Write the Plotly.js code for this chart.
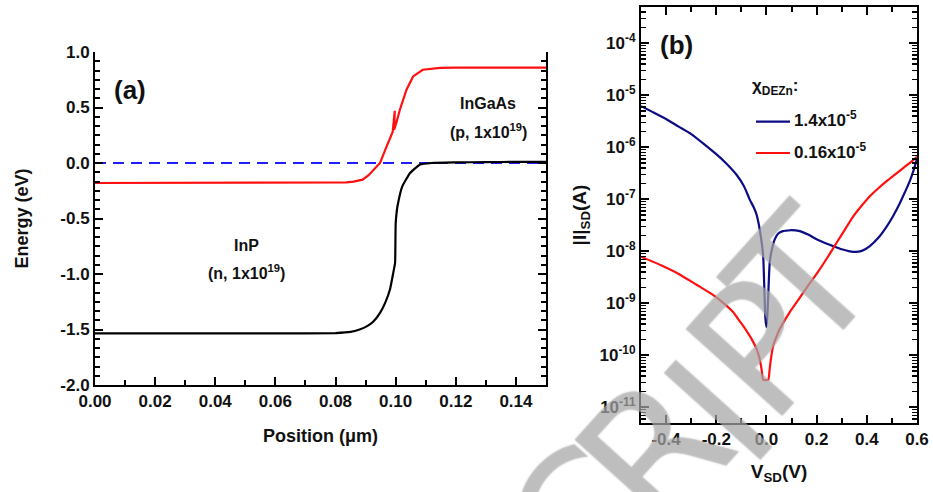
<!DOCTYPE html>
<html>
<head>
<meta charset="utf-8">
<script src="https://cdn.plot.ly/plotly-3.0.1.min.js"></script>
<style>html,body{margin:0;padding:0;background:#fff;}#chart{width:933px;height:492px;}</style>
</head>
<body>
<div id="chart"></div>
<script>
// ---------- Panel (a): band diagram ----------
const ecX = [0, 0.02, 0.04, 0.06, 0.08, 0.0837, 0.086, 0.089, 0.091, 0.0925, 0.0948, 0.097, 0.099, 0.0997, 0.0995, 0.1003, 0.1014, 0.1036, 0.1058, 0.109, 0.1147, 0.12, 0.13, 0.14, 0.15];
const ecY = [-0.18, -0.18, -0.18, -0.18, -0.178, -0.175, -0.168, -0.15, -0.11, -0.07, 0.0, 0.15, 0.28, 0.47, 0.30, 0.37, 0.48, 0.66, 0.78, 0.84, 0.857, 0.86, 0.86, 0.86, 0.86];
const evX = [0, 0.02, 0.04, 0.06, 0.08, 0.085, 0.088, 0.0905, 0.0925, 0.0948, 0.0965, 0.0981, 0.0992, 0.0998, 0.0999, 0.1000, 0.1003, 0.1006, 0.1022, 0.1048, 0.108, 0.112, 0.12, 0.13, 0.14, 0.15];
const evY = [-1.535, -1.535, -1.535, -1.535, -1.532, -1.522, -1.50, -1.47, -1.43, -1.35, -1.26, -1.14, -0.99, -0.90, -0.75, -0.55, -0.45, -0.39, -0.21, -0.09, -0.015, 0.0, 0.005, 0.008, 0.01, 0.01];
const efX = [0, 0.15];
const efY = [0, 0];

const xTicksA = [0, 0.02, 0.04, 0.06, 0.08, 0.10, 0.12, 0.14];
const xTextA = ['0.00', '0.02', '0.04', '0.06', '0.08', '0.10', '0.12', '0.14'];
const yTicksA = [-2, -1.5, -1, -0.5, 0, 0.5, 1];
const yTextA = ['-2.0', '-1.5', '-1.0', '-0.5', '0.0', '0.5', '1.0'];

// ---------- Panel (b): I-V curves ----------
const vBlue = [-0.5, -0.45, -0.4, -0.35, -0.3, -0.25, -0.2, -0.16, -0.12, -0.09, -0.067, -0.05, -0.04, -0.03, -0.02, -0.013, -0.008, -0.004, 0.0, 0.004, 0.007, 0.013, 0.02, 0.033, 0.047, 0.065, 0.08, 0.1, 0.133, 0.166, 0.2, 0.233, 0.266, 0.3, 0.346, 0.38, 0.412, 0.445, 0.479, 0.505, 0.532, 0.552, 0.572, 0.587, 0.6];
const iBlue = [6.2e-6, 4.7e-6, 3.5e-6, 2.5e-6, 1.8e-6, 1.17e-6, 7.4e-7, 4.9e-7, 3.0e-7, 1.8e-7, 1.0e-7, 6.9e-8, 5.2e-8, 3.2e-8, 1.6e-8, 8.1e-9, 1.6e-9, 5.0e-10, 3.5e-10, 6.3e-10, 1.4e-9, 6.0e-9, 1.0e-8, 1.7e-8, 2.2e-8, 2.45e-8, 2.5e-8, 2.57e-8, 2.45e-8, 2.1e-8, 1.7e-8, 1.45e-8, 1.26e-8, 1.1e-8, 9.8e-9, 1.02e-8, 1.26e-8, 1.8e-8, 3.0e-8, 4.8e-8, 8.5e-8, 1.38e-7, 2.3e-7, 3.7e-7, 6.0e-7];
const vRed = [-0.5, -0.42, -0.346, -0.28, -0.213, -0.17, -0.133, -0.106, -0.08, -0.06, -0.04, -0.028, -0.02, -0.013, 0.007, 0.012, 0.016, 0.027, 0.04, 0.053, 0.093, 0.133, 0.166, 0.2, 0.24, 0.279, 0.31, 0.346, 0.38, 0.412, 0.445, 0.479, 0.512, 0.545, 0.575, 0.6];
const iRed = [7.9e-9, 5.4e-9, 3.6e-9, 2.3e-9, 1.45e-9, 1.0e-9, 6.8e-10, 4.5e-10, 3.0e-10, 2.1e-10, 1.35e-10, 8.9e-11, 5.6e-11, 3.4e-11, 3.4e-11, 5.0e-11, 7.4e-11, 1.55e-10, 2.3e-10, 3.2e-10, 6.8e-10, 1.29e-9, 2.2e-9, 3.7e-9, 7.2e-9, 1.45e-8, 2.5e-8, 4.7e-8, 7.6e-8, 1.15e-7, 1.62e-7, 2.24e-7, 3.0e-7, 4.0e-7, 5.2e-7, 6.6e-7];

const xTicksB = [-0.4, -0.2, 0, 0.2, 0.4, 0.6];
const xTextB = ['-0.4', '-0.2', '0.0', '0.2', '0.4', '0.6'];
const xMinorB = [-0.5, -0.3, -0.1, 0.1, 0.3, 0.5];
const yTicksB = [1e-11, 1e-10, 1e-9, 1e-8, 1e-7, 1e-6, 1e-5, 1e-4];
const yTextB = ['10<sup>-11</sup>', '10<sup>-10</sup>', '10<sup>-9</sup>', '10<sup>-8</sup>', '10<sup>-7</sup>', '10<sup>-6</sup>', '10<sup>-5</sup>', '10<sup>-4</sup>'];
const legendNames = ['1.4x10<sup>-5</sup>', '0.16x10<sup>-5</sup>'];

// minor tick lists
const yMinorA = [];
for (let k = 0; k <= 36; k++) { const v = -2 + k * 0.5 / 6; if (k % 6 !== 0) yMinorA.push(+v.toFixed(4)); }
const yMinorB = [];
for (let e = -12; e <= -4; e++) for (let m = 2; m <= 9; m++) yMinorB.push(m * Math.pow(10, e));

const W = 933, H = 492;
const px = x => x / W, py = y => 1 - y / H;
const FONT = 'Liberation Sans, Arial, sans-serif';
const tf = {family: FONT, size: 17, color: '#111', weight: 'bold'};

const traces = [
  {x: efX, y: efY, xaxis: 'x', yaxis: 'y', mode: 'lines', line: {color: '#1f1fff', width: 2.2, dash: '11px,7px'}, hoverinfo: 'skip'},
  {x: ecX, y: ecY, xaxis: 'x', yaxis: 'y', mode: 'lines', line: {color: '#ff1010', width: 2.2}, hoverinfo: 'skip'},
  {x: evX, y: evY, xaxis: 'x', yaxis: 'y', mode: 'lines', line: {color: '#000', width: 2.2, shape: 'spline', smoothing: 0.4}, hoverinfo: 'skip'},
  {x: vBlue, y: iBlue, xaxis: 'x2', yaxis: 'y2', mode: 'lines', name: legendNames[0], line: {color: '#0c0c84', width: 2.2, shape: 'spline', smoothing: 0.6}},
  {x: vRed, y: iRed, xaxis: 'x2', yaxis: 'y2', mode: 'lines', name: legendNames[1], line: {color: '#ff1010', width: 2.2, shape: 'spline', smoothing: 0.5}}
];

const axBase = {showline: true, linecolor: '#000', linewidth: 2, ticks: 'inside', tickcolor: '#000', tickwidth: 2, ticklen: 8, showgrid: false, zeroline: false, tickfont: tf, fixedrange: true};

const layout = {
  width: W, height: H, margin: {l: 0, r: 0, t: 0, b: 0},
  paper_bgcolor: '#fff', plot_bgcolor: '#fff', showlegend: false,
  font: {family: FONT},
  xaxis: Object.assign({}, axBase, {domain: [px(95), px(546)], anchor: 'y', range: [0, 0.15], tickmode: 'array', tickvals: xTicksA, ticktext: xTextA,
    minor: {tickmode: 'array', tickvals: [0.01, 0.03, 0.05, 0.07, 0.09, 0.11, 0.13], ticks: 'inside', ticklen: 5, tickwidth: 2, tickcolor: '#000'},
    title: {text: 'Position (\u03bcm)', font: {family: FONT, size: 18, weight: 'bold', color: '#111'}, standoff: 19}}),
  xaxis3: Object.assign({}, axBase, {overlaying: 'x', side: 'top', anchor: 'y', range: [0, 0.15], tickmode: 'linear', tick0: 0, dtick: 0.015, showticklabels: false}),
  yaxis: Object.assign({}, axBase, {domain: [py(385), py(52)], anchor: 'x', range: [-2, 1], mirror: 'ticks', tickmode: 'array', tickvals: yTicksA, ticktext: yTextA,
    minor: {tickmode: 'array', tickvals: yMinorA, ticks: 'inside', ticklen: 5, tickwidth: 2, tickcolor: '#000'},
    title: {text: 'Energy (eV)', font: {family: FONT, size: 18, weight: 'bold', color: '#111'}, standoff: 27}}),
  xaxis2: Object.assign({}, axBase, {domain: [px(641), px(917)], anchor: 'y2', range: [-0.5, 0.6], mirror: 'ticks', tickmode: 'array', tickvals: xTicksB, ticktext: xTextB,
    minor: {tickmode: 'array', tickvals: xMinorB, ticks: 'inside', ticklen: 5, tickwidth: 2, tickcolor: '#000'},
    title: {text: 'V<sub>SD</sub>(V)', font: {family: FONT, size: 19, weight: 'bold', color: '#111'}, standoff: 16}}),
  yaxis2: Object.assign({}, axBase, {domain: [py(423), py(7)], anchor: 'x2', type: 'log', range: [Math.log10(5e-12), Math.log10(5e-4)], mirror: 'ticks', tickmode: 'array', tickvals: yTicksB, ticktext: yTextB,
    minor: {tickmode: 'array', tickvals: yMinorB, ticks: 'inside', ticklen: 5, tickwidth: 1.5, tickcolor: '#000'},
    title: {text: '|I|<sub>SD</sub>(A)', font: {family: FONT, size: 19, weight: 'bold', color: '#111'}, standoff: 8}}),
  shapes: [
    {type: 'line', xref: 'paper', yref: 'paper', x0: px(756), x1: px(790), y0: py(121.7), y1: py(121.7), line: {color: '#0c0c84', width: 2.2}},
    {type: 'line', xref: 'paper', yref: 'paper', x0: px(756), x1: px(790), y0: py(153), y1: py(153), line: {color: '#ff1010', width: 2.2}}
  ],
  annotations: []
};

const lab = (text, x, y, size, xanchor) => ({text: text, xref: 'paper', yref: 'paper', x: px(x), y: py(y), xanchor: xanchor || 'center', yanchor: 'middle', showarrow: false, font: {family: FONT, size: size, weight: 'bold', color: '#111'}});

// watermark letters of the journal stamp
const wmLetters = ['C', 'R', 'I', 'P', 'T'];
const wmPos = [[582, 522], [655, 452], [720, 412], [760, 348], [803, 282]];
wmLetters.forEach((t, i) => layout.annotations.push({text: t, xref: 'paper', yref: 'paper', x: px(wmPos[i][0]), y: py(wmPos[i][1]), xanchor: 'center', yanchor: 'middle', showarrow: false, textangle: -48,
  font: {family: 'DejaVu Sans, sans-serif', size: 178, color: 'rgba(185,185,185,0.55)', shadow: '0px 0px 2px rgba(100,100,100,0.7)'}}));

layout.annotations.push(
  lab('(a)', 130, 90, 26),
  lab('InGaAs', 488, 103, 16),
  lab('(p, 1x10<sup>19</sup>)', 488, 131, 16),
  lab('InP', 247, 245, 16),
  lab('(n, 1x10<sup>19</sup>)', 247, 272, 16),
  lab('(b)', 676, 45, 26),
  lab('\u03c7<sub>DEZn</sub>:', 750, 87, 17, 'left'),
  lab(legendNames[0], 792, 119, 17, 'left'),
  lab(legendNames[1], 792, 151, 17, 'left')
);

Plotly.newPlot('chart', traces, layout, {staticPlot: true, displayModeBar: false});
</script>
</body>
</html>
